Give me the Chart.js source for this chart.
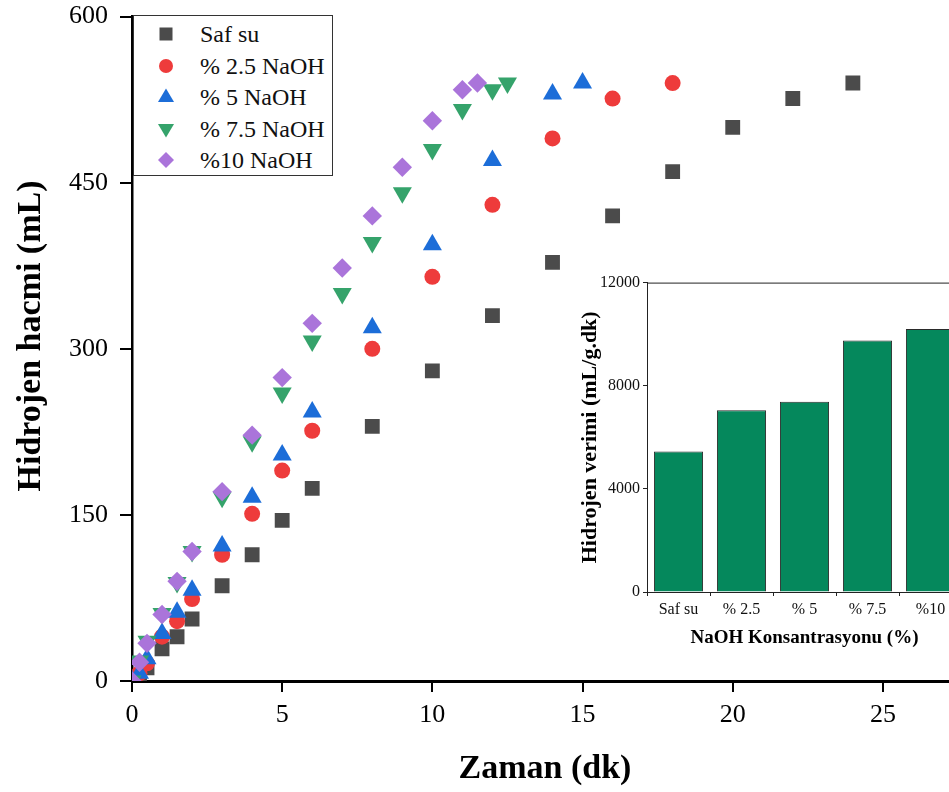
<!DOCTYPE html>
<html>
<head>
<meta charset="utf-8">
<script src="https://cdn.jsdelivr.net/npm/chart.js@4/dist/chart.umd.min.js"></script>
<style>
  html, body { margin: 0; padding: 0; overflow: hidden; background: #fff; }
  #wrap { position: relative; width: 949px; height: 792px; overflow: hidden; }
  #mainChart { position: absolute; left: 0; top: -11px; }
  #insetChart { position: absolute; left: 555px; top: 270px; }
  #legend {
    position: absolute; left: 133px; top: 15px; width: 198px; height: 159px;
    border: 1px solid #333; background: #fff;
    font-family: 'Liberation Serif', serif; font-size: 24px; color: #111;
  }
  .row { position: absolute; left: 0; height: 30px; line-height: 30px; white-space: nowrap; }
  .row svg { position: absolute; left: 22px; top: 5px; }
  .row span { position: absolute; left: 66px; top: 0; }
</style>
</head>
<body>
<div id="wrap">
  <canvas id="mainChart" width="970" height="803"></canvas>
  <canvas id="insetChart" width="420" height="383"></canvas>
  <div id="legend"></div>
</div>
<script>
// hydrogen volume (mL) against time (min) for each solution
var safSuT = [0, 0.25, 0.5, 1, 1.5, 2, 3, 4, 5, 6, 8, 10, 12, 14, 16, 18, 20, 22, 24];
var safSuV = [0, 4, 12, 29, 40, 56, 86, 114, 145, 174, 230, 280, 330, 378, 420, 460, 500, 526, 540];

var naoh25T = [0, 0.25, 0.5, 1, 1.5, 2, 3, 4, 5, 6, 8, 10, 12, 14, 16, 18];
var naoh25V = [0, 7, 16, 40, 54, 74, 114, 151, 190, 226, 300, 365, 430, 490, 526, 540];

var naoh5T = [0, 0.25, 0.5, 1, 1.5, 2, 3, 4, 5, 6, 8, 10, 12, 14, 15];
var naoh5V = [0, 7, 20, 43, 62, 82, 122, 166, 204, 243, 319, 394, 470, 530, 540];

var naoh75T = [0, 0.25, 0.5, 1, 1.5, 2, 3, 4, 5, 6, 7, 8, 9, 10, 11, 12, 12.5];
var naoh75V = [0, 18, 36, 61, 89, 117, 166, 216, 260, 307, 350, 396, 441, 480, 516, 534, 540];

var naoh10T = [0, 0.25, 0.5, 1, 1.5, 2, 3, 4, 5, 6, 7, 8, 9, 10, 11, 11.5];
var naoh10V = [0, 17, 34, 60, 90, 117, 171, 222, 274, 323, 373, 420, 464, 506, 534, 540];

var seriesNames = ['Saf su', '% 2.5 NaOH', '% 5 NaOH', '% 7.5 NaOH', '%10 NaOH'];
var seriesColors = ['#4b4b4b', '#ee3b3b', '#1c6dd8', '#35a36b', '#aa74da'];

// inset: hydrogen yield per NaOH concentration
var insetLabels = ['Saf su', '% 2.5', '% 5', '% 7.5', '%10'];
var insetValues = [5450, 7050, 7380, 9750, 10200];

var xTicks = [0, 5, 10, 15, 20, 25];
var yTicks = [0, 150, 300, 450, 600];

function toPoints(t, v) {
  return t.map(function (x, i) { return { x: x, y: v[i] }; });
}

var serif = "'Liberation Serif', 'Times New Roman', serif";
var shapes = [
  { style: 'rect', rot: 0, r: 10.5 },
  { style: 'circle', rot: 0, r: 8 },
  { style: 'triangle', rot: 0, r: 11 },
  { style: 'triangle', rot: 180, r: 11 },
  { style: 'rectRot', rot: 0, r: 9.7 }
];
var allT = [safSuT, naoh25T, naoh5T, naoh75T, naoh10T];
var allV = [safSuV, naoh25V, naoh5V, naoh75V, naoh10V];

var datasets = seriesNames.map(function (name, i) {
  return {
    label: name,
    data: toPoints(allT[i], allV[i]),
    showLine: false,
    pointStyle: shapes[i].style,
    rotation: shapes[i].rot,
    pointRadius: shapes[i].r,
    pointHoverRadius: shapes[i].r,
    pointBackgroundColor: seriesColors[i],
    pointBorderColor: seriesColors[i],
    pointBorderWidth: 0,
    order: 4 - i
  };
});

// vertical title of the main chart, placed by hand
var yTitle = {
  id: 'yTitle',
  afterDraw: function (chart) {
    var ctx = chart.ctx;
    ctx.save();
    ctx.translate(31, 347);
    ctx.rotate(-Math.PI / 2);
    ctx.font = 'bold 34px ' + serif;
    ctx.fillStyle = '#000';
    ctx.textAlign = 'center';
    ctx.textBaseline = 'middle';
    ctx.fillText('Hidrojen hacmi (mL)', 0, 0);
    ctx.restore();
  }
};

function fixedTicks(list) {
  return function (s) { s.ticks = list.map(function (v) { return { value: v }; }); };
}

new Chart(document.getElementById('mainChart'), {
  type: 'scatter',
  data: { datasets: datasets },
  options: {
    responsive: false,
    animation: false,
    layout: { padding: { left: 5, top: 16, right: 12, bottom: 0 } },
    plugins: { legend: { display: false }, tooltip: { enabled: false } },
    scales: {
      x: {
        type: 'linear', min: 0, max: 27.5, z: 1,
        afterBuildTicks: fixedTicks(xTicks),
        ticks: { color: '#000', font: { family: serif, size: 26 }, padding: 8, maxRotation: 0 },
        grid: { drawOnChartArea: false, drawTicks: true, tickLength: 11, color: '#000', lineWidth: 2 },
        border: { color: '#000', width: 3 },
        title: { display: true, text: 'Zaman (dk)', color: '#000', font: { family: serif, size: 34, weight: 'bold' }, padding: { top: 4, bottom: 2 } },
        afterFit: function (s) { s.height = 111; }
      },
      y: {
        type: 'linear', min: 0, max: 600, z: 1,
        afterBuildTicks: fixedTicks(yTicks),
        ticks: { color: '#000', font: { family: serif, size: 26 }, padding: 12 },
        grid: { drawOnChartArea: false, drawTicks: true, tickLength: 12, color: '#000', lineWidth: 2 },
        border: { color: '#000', width: 2.5 },
        afterFit: function (s) { s.width = 127; }
      }
    }
  },
  plugins: [yTitle]
});

// thin line closing the top of the inset frame
var topFrame = {
  id: 'topFrame',
  afterDraw: function (chart) {
    var a = chart.chartArea, ctx = chart.ctx;
    ctx.save();
    ctx.strokeStyle = '#222';
    ctx.lineWidth = 1;
    ctx.beginPath();
    ctx.moveTo(a.left, a.top + 0.5);
    ctx.lineTo(a.right, a.top + 0.5);
    ctx.stroke();
    ctx.restore();
  }
};

new Chart(document.getElementById('insetChart'), {
  type: 'bar',
  data: {
    labels: insetLabels,
    datasets: [{
      data: insetValues,
      backgroundColor: '#05885c',
      borderColor: '#2a2a2a',
      borderWidth: 1,
      barPercentage: 0.78,
      categoryPercentage: 1
    }]
  },
  options: {
    responsive: false,
    animation: false,
    layout: { padding: { left: 18, top: 12, right: 13, bottom: 0 } },
    plugins: { legend: { display: false }, tooltip: { enabled: false } },
    scales: {
      x: {
        ticks: { color: '#111', font: { family: serif, size: 16 }, padding: 4, maxRotation: 0 },
        grid: { drawOnChartArea: false, drawTicks: true, tickLength: 4, color: '#222', lineWidth: 1 },
        border: { color: '#222', width: 1 },
        title: { display: true, text: 'NaOH Konsantrasyonu (%)', color: '#000', font: { family: serif, size: 19, weight: 'bold' }, padding: { top: 4, bottom: 4 } },
        afterFit: function (s) { s.height = 61; }
      },
      y: {
        min: 0, max: 12000,
        ticks: { stepSize: 4000, color: '#111', font: { family: serif, size: 16 }, padding: 3,
          callback: function (v) { return String(v); } },
        grid: { drawOnChartArea: false, drawTicks: true, tickLength: 4, color: '#222', lineWidth: 1 },
        border: { color: '#222', width: 1 },
        title: { display: true, text: 'Hidrojen verimi (mL/g.dk)', color: '#000', font: { family: serif, size: 22, weight: 'bold' }, padding: { top: 4, bottom: 4 } },
        afterFit: function (s) { s.width = 74; }
      }
    }
  },
  plugins: [topFrame]
});

// legend box with the same marker shapes
function markerSvg(i) {
  var c = seriesColors[i], s = '';
  if (i === 0) s = '<rect x="3.5" y="3.5" width="13" height="13" fill="' + c + '"/>';
  if (i === 1) s = '<circle cx="10" cy="10" r="7" fill="' + c + '"/>';
  if (i === 2) s = '<polygon points="10,1.5 18,15 2,15" fill="' + c + '"/>';
  if (i === 3) s = '<polygon points="2,5 18,5 10,18.5" fill="' + c + '"/>';
  if (i === 4) s = '<polygon points="10,2 18,10 10,18 2,10" fill="' + c + '"/>';
  return '<svg width="20" height="20" viewBox="0 0 20 20">' + s + '</svg>';
}
var legend = document.getElementById('legend');
seriesNames.forEach(function (name, i) {
  var row = document.createElement('div');
  row.className = 'row';
  row.style.top = (3 + i * 31.5) + 'px';
  row.innerHTML = markerSvg(i) + '<span>' + name + '</span>';
  legend.appendChild(row);
});
</script>
</body>
</html>
